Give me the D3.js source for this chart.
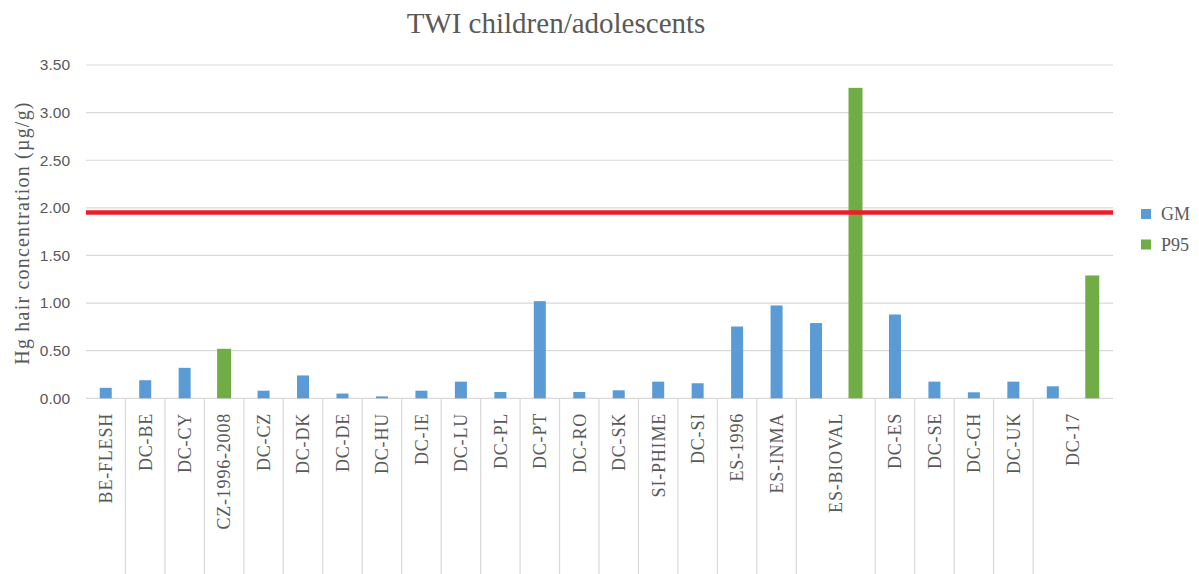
<!DOCTYPE html>
<html>
<head>
<meta charset="utf-8">
<script src="https://cdn.jsdelivr.net/npm/d3@7"></script>
<style>
  body { margin: 0; background: #fff; }
  svg { display: block; }
</style>
</head>
<body>
<div id="chart"></div>
<script>
var w = 1199;
var h = 574;

// data
var labels = ['BE-FLESH', 'DC-BE', 'DC-CY', 'CZ-1996-2008', 'DC-CZ', 'DC-DK', 'DC-DE', 'DC-HU',
  'DC-IE', 'DC-LU', 'DC-PL', 'DC-PT', 'DC-RO', 'DC-SK', 'SI-PHIME', 'DC-SI', 'ES-1996',
  'ES-INMA', 'ES-BIOVAL', 'DC-ES', 'DC-SE', 'DC-CH', 'DC-UK', 'DC-17'];
var gm = [0.11, 0.19, 0.32, null, 0.08, 0.24, 0.05, 0.02,
  0.08, 0.175, 0.066, 1.02, 0.066, 0.084, 0.175, 0.158, 0.754,
  0.975, 0.79, 0.88, 0.175, 0.063, 0.175, 0.126];
var p95 = [null, null, null, 0.52, null, null, null, null,
  null, null, null, null, null, null, null, null, null,
  null, 3.26, null, null, null, null, 1.29];
var series = ['GM', 'P95'];
var colors = { GM: '#5b9bd5', P95: '#70ad47' };
var yTicks = [0, 0.5, 1, 1.5, 2, 2.5, 3, 3.5];
var limit = 1.95;

var plotLeft = 86, plotRight = 1112, plotTop = 65, base = 398.3;

// one slot per bar, categories span their slots
var slots = [];
labels.forEach(function (l, i) {
  if (gm[i] !== null) slots.push({ id: l + '|GM', label: l, series: 'GM', value: gm[i] });
  if (p95[i] !== null) slots.push({ id: l + '|P95', label: l, series: 'P95', value: p95[i] });
});

var x = d3.scaleBand().domain(slots.map(function (d) { return d.id; })).range([plotLeft, plotRight]);
var y = d3.scaleLinear().domain([0, 3.5]).range([base, plotTop]);

var svg = d3.select('#chart').append('svg')
  .attr('width', w)
  .attr('height', h);

// gridlines
svg.selectAll('line.grid')
  .data(yTicks)
  .enter()
  .append('line')
  .attr('class', 'grid')
  .attr('x1', plotLeft)
  .attr('x2', plotRight + 1)
  .attr('y1', function (d) { return y(d); })
  .attr('y2', function (d) { return y(d); })
  .style('stroke', '#d9d9d9')
  .style('stroke-width', 1.2);

// y tick labels
svg.selectAll('text.ytick')
  .data(yTicks)
  .enter()
  .append('text')
  .attr('class', 'ytick')
  .attr('x', 70)
  .attr('y', function (d) { return y(d); })
  .attr('dy', '0.35em')
  .attr('text-anchor', 'end')
  .attr('fill', '#595959')
  .style('font-family', 'Liberation Sans, Arial, sans-serif')
  .style('font-size', '15.5px')
  .text(function (d) { return d3.format('.2f')(d); });

// category groups
var groups = labels.map(function (l) {
  var s = slots.filter(function (d) { return d.label === l; });
  var x0 = x(s[0].id);
  var x1 = x(s[s.length - 1].id) + x.bandwidth();
  return { label: l, x0: x0, x1: x1 };
});

svg.selectAll('line.sep')
  .data(groups.slice(1))
  .enter()
  .append('line')
  .attr('class', 'sep')
  .attr('x1', function (d) { return d.x0; })
  .attr('x2', function (d) { return d.x0; })
  .attr('y1', base)
  .attr('y2', h)
  .style('stroke', '#d9d9d9')
  .style('stroke-width', 1.2);

svg.selectAll('text.cat')
  .data(groups)
  .enter()
  .append('text')
  .attr('class', 'cat')
  .attr('transform', function (d) {
    return 'translate(' + ((d.x0 + d.x1) / 2) + ',' + 413 + ') rotate(-90)';
  })
  .attr('dy', '0.35em')
  .attr('text-anchor', 'end')
  .attr('fill', '#595959')
  .style('font-family', 'Liberation Serif, serif')
  .style('font-size', '18px')
  .style('letter-spacing', '0.8px')
  .text(function (d) { return d.label; });

// bars
svg.selectAll('rect.bar')
  .data(slots)
  .enter()
  .append('rect')
  .attr('class', 'bar')
  .attr('x', function (d) {
    var bw = d.series === 'GM' ? 12 : 14;
    return x(d.id) + x.bandwidth() / 2 - bw / 2;
  })
  .attr('width', function (d) { return d.series === 'GM' ? 12 : 14; })
  .attr('y', function (d) { return y(d.value); })
  .attr('height', function (d) { return base - y(d.value); })
  .style('fill', function (d) { return colors[d.series]; });

// limit line
svg.append('line')
  .attr('x1', plotLeft)
  .attr('x2', plotRight + 1)
  .attr('y1', y(limit))
  .attr('y2', y(limit))
  .style('stroke', '#ee1c25')
  .style('stroke-width', 4.5);

// title
svg.append('text')
  .attr('x', 556)
  .attr('y', 33)
  .attr('text-anchor', 'middle')
  .attr('fill', '#595959')
  .style('font-family', 'Liberation Serif, serif')
  .style('font-size', '29px')
  .text('TWI children/adolescents');

svg.append('text')
  .attr('transform', 'translate(22,233) rotate(-90)')
  .attr('dy', '0.35em')
  .attr('text-anchor', 'middle')
  .attr('fill', '#595959')
  .style('font-family', 'Liberation Serif, serif')
  .style('font-size', '20px')
  .style('letter-spacing', '1.2px')
  .text('Hg  hair concentration (\u00b5g/g)');

// legend
var leg = svg.selectAll('g.leg')
  .data(series)
  .enter()
  .append('g')
  .attr('class', 'leg')
  .attr('transform', function (d, i) { return 'translate(1141,' + (214 + i * 30.5) + ')'; });

leg.append('rect')
  .attr('x', 0)
  .attr('y', -5)
  .attr('width', 10)
  .attr('height', 10)
  .style('fill', function (d) { return colors[d]; });

leg.append('text')
  .attr('x', 20)
  .attr('y', 0)
  .attr('dy', '0.35em')
  .attr('fill', '#595959')
  .style('font-family', 'Liberation Serif, serif')
  .style('font-size', '18px')
  .text(function (d) { return d; });
</script>
</body>
</html>
